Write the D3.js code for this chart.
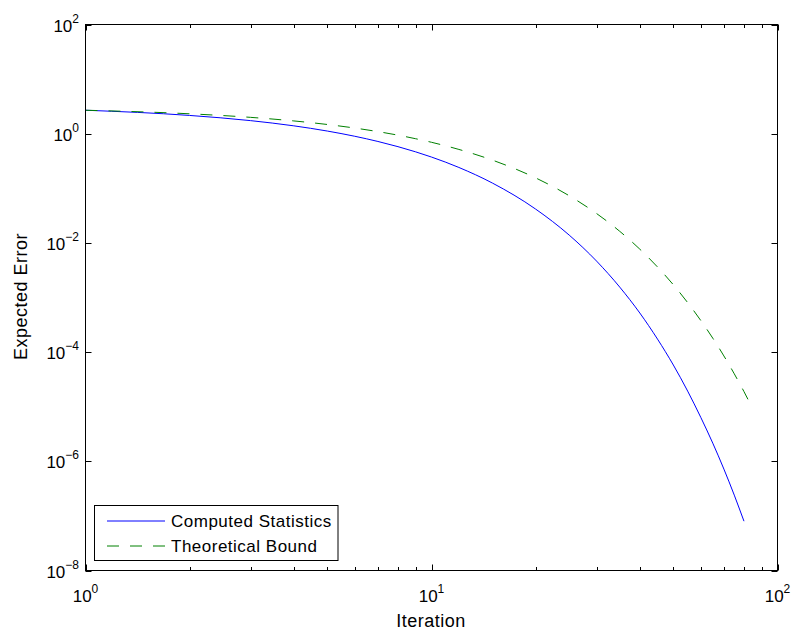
<!DOCTYPE html>
<html>
<head>
<meta charset="utf-8">
<script src="https://cdn.jsdelivr.net/npm/d3@7"></script>
<style>
  body { margin: 0; background: #fff; }
  text { font-family: "Liberation Sans", Arial, Helvetica, sans-serif; fill: #000; }
</style>
</head>
<body>
<svg id="chart" width="794" height="633"></svg>
<script>
// values
const iterations = [1, 2, 3, 4, 5, 6, 7, 8, 9, 10, 12, 15, 20, 25, 30, 35, 40, 45, 50, 55, 60, 65, 70, 75, 80];
const computedStats = [2.69, 2.16, 1.735, 1.393, 1.118, 0.898, 0.721, 0.579, 0.465, 0.3735, 0.2408, 0.1247, 0.0416,
  0.0139, 0.00464, 0.00155, 5.2e-4, 1.73e-4, 5.8e-5, 1.93e-5, 6.4e-6, 2.15e-6, 7.2e-7, 2.4e-7, 8.0e-8];
const boundIterations = [1, 2, 3, 4, 5, 6, 7, 8, 9, 10, 12, 15, 20, 25, 30, 35, 40, 45, 50, 55, 60, 65, 70, 75, 80, 83];
const theoreticalBound = [2.69, 2.315, 1.992, 1.714, 1.475, 1.269, 1.092, 0.940, 0.809, 0.696, 0.515, 0.328, 0.155,
  0.0731, 0.0345, 0.0163, 0.00768, 0.00362, 0.00171, 8.06e-4, 3.8e-4, 1.8e-4, 8.5e-5, 4.0e-5, 1.89e-5, 1.2e-5];
const xTickExps = [0, 1, 2];
const yTickExps = [-8, -6, -4, -2, 0, 2];
const seriesNames = ["Computed Statistics", "Theoretical Bound"];

// plot box
var margin = {left: 85.5, top: 24.5, right: 777.5, bottom: 570.5};

var x = d3.scaleLog().domain([1, 100]).range([margin.left, margin.right]);
var y = d3.scaleLog().domain([1e-8, 1e2]).range([margin.bottom, margin.top]);

var svg = d3.select("#chart");

// minor x ticks 2..9, 20..90
var minorX = [];
for (let d = 1; d <= 10; d *= 10) {
  for (let m = 2; m <= 9; m++) minorX.push(m * d);
}

var ticks = svg.append("g").attr("stroke", "#000").attr("stroke-width", 1);
minorX.forEach(v => {
  const px = Math.round(x(v)) + 0.5;
  ticks.append("line").attr("x1", px).attr("x2", px).attr("y1", margin.bottom).attr("y2", margin.bottom - 3.5);
  ticks.append("line").attr("x1", px).attr("x2", px).attr("y1", margin.top).attr("y2", margin.top + 3.5);
});
xTickExps.forEach(e => {
  const px = Math.round(x(Math.pow(10, e))) + 0.5;
  ticks.append("line").attr("x1", px).attr("x2", px).attr("y1", margin.bottom).attr("y2", margin.bottom - 6);
  ticks.append("line").attr("x1", px).attr("x2", px).attr("y1", margin.top).attr("y2", margin.top + 6);
});
yTickExps.forEach(e => {
  const py = Math.round(y(Math.pow(10, e))) + 0.5;
  ticks.append("line").attr("x1", margin.left).attr("x2", margin.left + 6).attr("y1", py).attr("y2", py);
  ticks.append("line").attr("x1", margin.right).attr("x2", margin.right - 6).attr("y1", py).attr("y2", py);
});

// tick labels 10^n
function powLabel(g, e) {
  g.append("tspan").text("10").attr("font-size", 17);
  g.append("tspan").text(String(e).replace("-", "\u2212")).attr("font-size", 12).attr("dy", -9);
}
xTickExps.forEach(e => {
  const t = svg.append("text").attr("x", x(Math.pow(10, e))).attr("y", 601.5).attr("text-anchor", "middle");
  powLabel(t, e);
});
yTickExps.forEach(e => {
  const t = svg.append("text").attr("x", 79).attr("y", y(Math.pow(10, e)) + 7).attr("text-anchor", "end");
  powLabel(t, e);
});

// curves
var line = d3.line().curve(d3.curveMonotoneX);
svg.append("path")
  .attr("d", line(iterations.map((k, i) => [x(k), y(computedStats[i])])))
  .attr("fill", "none").attr("stroke", "#0000ff").attr("stroke-width", 1);
svg.append("path")
  .attr("d", line(boundIterations.map((k, i) => [x(k), y(theoreticalBound[i])])))
  .attr("fill", "none").attr("stroke", "#008000").attr("stroke-width", 1)
  .attr("stroke-dasharray", "12,11");

// box
svg.append("rect")
  .attr("x", margin.left).attr("y", margin.top)
  .attr("width", margin.right - margin.left).attr("height", margin.bottom - margin.top)
  .attr("fill", "none").attr("stroke", "#000").attr("stroke-width", 1);

// axis labels
svg.append("text").attr("x", 431).attr("y", 627).attr("text-anchor", "middle")
  .attr("font-size", 18).style("letter-spacing", "0.5px").text("Iteration");
svg.append("text").attr("transform", "translate(27,296.5) rotate(-90)").attr("text-anchor", "middle")
  .attr("font-size", 18).style("letter-spacing", "0.5px").text("Expected Error");

// legend
var lg = svg.append("g");
lg.append("rect").attr("x", 94.5).attr("y", 505.5).attr("width", 243.5).attr("height", 55)
  .attr("fill", "#fff").attr("stroke", "#000").attr("stroke-width", 1);
var legendStyles = [{c: "#0000ff", dash: null}, {c: "#008000", dash: "12,11"}];
seriesNames.forEach((name, i) => {
  const ly = 521 + i * 25;
  lg.append("line").attr("x1", 107).attr("x2", 165).attr("y1", ly).attr("y2", ly)
    .attr("stroke", legendStyles[i].c).attr("stroke-width", 1)
    .attr("stroke-dasharray", legendStyles[i].dash);
  lg.append("text").attr("x", 171).attr("y", ly + 6).attr("font-size", 17)
    .style("letter-spacing", "0.5px").text(name);
});
</script>
</body>
</html>
